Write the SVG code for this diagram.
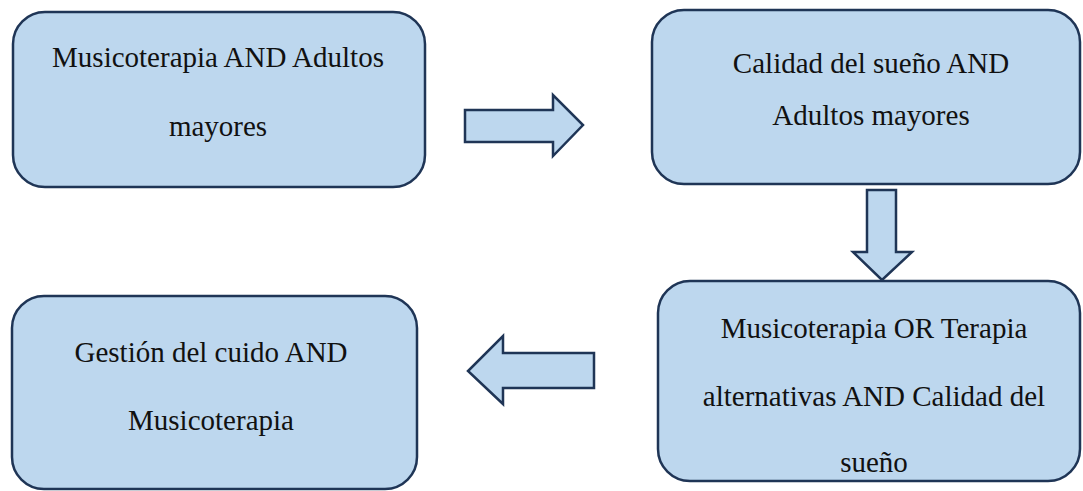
<svg xmlns="http://www.w3.org/2000/svg" width="1083" height="491" viewBox="0 0 1083 491">
<style>
.box{fill:#bdd7ee;stroke:#1f3556;stroke-width:2.5}
.arr{fill:#bdd7ee;stroke:#1f3556;stroke-width:2.5;stroke-linejoin:miter}
text{font-family:"Liberation Serif","Times New Roman",serif;font-size:29px;fill:#111;text-anchor:middle}
</style>
<rect width="1083" height="491" fill="#fff"/>
<g id="node1">
<rect class="box" x="13" y="12" width="412" height="175" rx="32"/>
<text x="218" y="67">Musicoterapia AND Adultos</text>
<text x="218" y="136">mayores</text>
</g>
<g id="node2">
<rect class="box" x="652" y="10" width="428" height="174" rx="32"/>
<text x="871" y="73">Calidad del sueño AND</text>
<text x="871" y="125">Adultos mayores</text>
</g>
<g id="node3">
<rect class="box" x="658" y="281" width="422" height="200" rx="32"/>
<text x="874" y="338">Musicoterapia OR Terapia</text>
<text x="874" y="406">alternativas AND Calidad del</text>
<text x="874" y="472">sueño</text>
</g>
<g id="node4">
<rect class="box" x="12" y="296" width="405" height="193" rx="32"/>
<text x="211" y="362">Gestión del cuido AND</text>
<text x="211" y="430">Musicoterapia</text>
</g>
<g id="connectors">
<polygon class="arr" points="465,110 553,110 553,95 583,125 553,156 553,142 465,142"/>
<polygon class="arr" points="867,190 896,190 896,252 912,252 882,280 853,252 867,252"/>
<polygon class="arr" points="594,353 503,353 503,336 468,371 503,404 503,388 594,388"/>
</g>
</svg>
